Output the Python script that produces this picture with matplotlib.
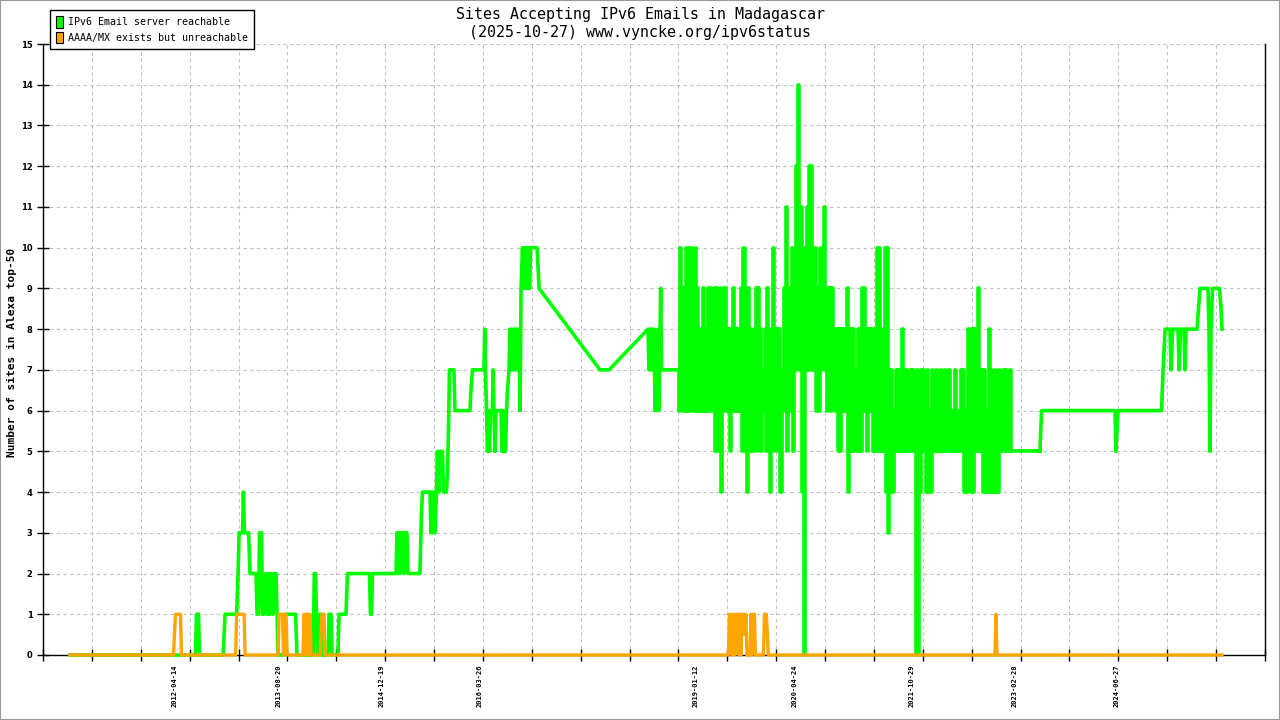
import datetime as dt

import matplotlib
matplotlib.use("Agg")

import matplotlib.pyplot as plt
import matplotlib.dates as mdates
import numpy as np
import pandas as pd
from matplotlib.patches import Patch, Rectangle

# IPv6 reachable sites (decimal year, count)
green_year = [
    2010.925, 2012.550, 2012.563, 2012.589, 2012.602, 2012.907, 2012.933, 2013.082,
    2013.101, 2013.114, 2013.159, 2013.170, 2013.183, 2013.237, 2013.256, 2013.334,
    2013.347, 2013.367, 2013.379, 2013.405, 2013.418, 2013.438, 2013.464, 2013.483,
    2013.496, 2013.515, 2013.528, 2013.554, 2013.567, 2013.593, 2013.606, 2013.619,
    2013.697, 2013.710, 2013.846, 2013.865, 2014.076, 2014.089, 2014.105, 2014.118,
    2014.130, 2014.150, 2014.163, 2014.176, 2014.189, 2014.267, 2014.280, 2014.306,
    2014.319, 2014.396, 2014.409, 2014.500, 2014.519, 2014.804, 2014.817, 2014.830,
    2014.843, 2015.148, 2015.161, 2015.173, 2015.186, 2015.199, 2015.212, 2015.238,
    2015.251, 2015.264, 2015.290, 2015.303, 2015.458, 2015.478, 2015.491, 2015.588,
    2015.601, 2015.614, 2015.627, 2015.640, 2015.653, 2015.672, 2015.685, 2015.705,
    2015.717, 2015.750, 2015.763, 2015.802, 2015.815, 2015.828, 2015.841, 2015.899,
    2015.912, 2016.106, 2016.119, 2016.138, 2016.287, 2016.297, 2016.307, 2016.320,
    2016.333, 2016.346, 2016.359, 2016.372, 2016.398, 2016.404, 2016.417, 2016.430,
    2016.443, 2016.508, 2016.521, 2016.534, 2016.547, 2016.566, 2016.579, 2016.592,
    2016.611, 2016.624, 2016.637, 2016.650, 2016.663, 2016.676, 2016.689, 2016.702,
    2016.715, 2016.728, 2016.747, 2016.754, 2016.767, 2016.786, 2016.799, 2016.812,
    2016.825, 2016.838, 2016.851, 2016.864, 2016.877, 2016.890, 2016.974, 2016.987,
    2017.000, 2017.790, 2017.907, 2018.412, 2018.425, 2018.438, 2018.451, 2018.464,
    2018.477, 2018.490, 2018.503, 2018.516, 2018.529, 2018.542, 2018.555, 2018.576,
    2018.587, 2018.813,
]
green_val = [
    0, 0, 1, 1, 0, 0, 1, 1,
    2, 3, 3, 4, 3, 3, 2, 2,
    1, 1, 3, 3, 1, 1, 2, 1,
    2, 1, 2, 1, 2, 2, 1, 0,
    0, 1, 1, 0, 0, 2, 2, 1,
    0, 0, 1, 1, 0, 0, 1, 1,
    0, 0, 1, 1, 2, 2, 1, 1,
    2, 2, 3, 2, 3, 2, 3, 3,
    2, 3, 3, 2, 2, 3.5, 4, 4,
    3, 4, 3, 4, 3, 4, 5, 4,
    5, 5, 4, 4, 4.5, 5.5, 7, 7,
    6, 6, 6.5, 7, 7, 8, 7, 6,
    5, 6, 5, 6, 6, 7, 6, 5,
    6, 6, 5, 6, 5, 5, 6, 6.5,
    7, 8, 7, 8, 7, 8, 7, 8,
    7, 8, 7, 6, 9, 10, 9, 10,
    9, 10, 9, 10, 9, 10, 10, 9.5,
    9, 7, 7, 8, 7, 8, 7, 8,
    7, 8, 6, 7, 6, 8, 6, 9,
    7, 7,
]

# busy stretch late 2018 .. early 2023: lowest and highest daily count
# inside each 10-day window
dense_start = "2018-10-25"
dense_step_days = 10
dense_low = [
    6, 7, 6, 6, 6, 6, 7, 6, 6, 6, 6, 6, 6, 6, 6, 7, 6, 5, 5, 6,
    4, 6, 6, 6, 5, 6, 6, 6, 6, 6, 5, 5, 4, 5, 5, 5, 6, 5, 6, 5,
    6, 5, 5, 4, 6, 5, 6, 5, 4, 6, 7, 5, 7, 6, 5, 7, 8, 7, 4, 0,
    7, 7, 8, 7, 7, 6, 6, 7, 8, 7, 6, 7, 6, 7, 6, 5, 5, 6, 6, 6,
    4, 5, 5, 5, 5, 5, 5, 6, 6, 5, 6, 6, 5, 5, 5, 5, 5, 5, 4, 3,
    4, 4, 5, 5, 5, 5, 5, 5, 5, 5, 5, 5, 0, 0, 4, 5, 5, 4, 4, 4,
    5, 5, 5, 5, 5, 5, 5, 5, 5, 5, 5, 5, 5, 5, 5, 4, 4, 5, 4, 4,
    5, 5, 5, 5, 4, 4, 4, 4, 4, 4, 4, 4, 5, 5, 5, 5, 5, 5,
]
dense_high = [
    10, 9, 9, 10, 10, 10, 9, 10, 9, 8, 8, 9, 8, 9, 9, 8, 9, 9, 8, 9,
    8, 9, 8, 8, 8, 9, 8, 8, 8, 9, 10, 8, 9, 8, 7, 8, 9, 9, 8, 7,
    8, 9, 8, 7, 10, 8, 8, 8, 7, 9, 11, 8, 9, 10, 9, 12, 14, 11, 10, 9,
    11, 12, 12, 9, 10, 9, 10, 9, 11, 9, 9, 9, 9, 8, 8, 8, 8, 8, 8, 9,
    8, 8, 8, 7, 8, 8, 9, 9, 8, 8, 8, 8, 8, 10, 10, 8, 7, 10, 10, 7,
    7, 6, 7, 7, 6, 8, 7, 7, 6, 7, 7, 6, 7, 6, 7, 7, 6, 7, 6, 7,
    6, 7, 6, 7, 6, 7, 6, 7, 6, 6, 7, 6, 6, 7, 7, 6, 8, 7, 8, 8,
    8, 9, 7, 7, 7, 6, 8, 7, 6, 7, 6, 7, 6, 7, 7, 6, 7, 5,
]

tail_year = [
    2023.489, 2023.511, 2024.461, 2024.474, 2024.500, 2025.063, 2025.083, 2025.096,
    2025.109, 2025.173, 2025.186, 2025.206, 2025.277, 2025.290, 2025.309, 2025.355,
    2025.367, 2025.380, 2025.523, 2025.542, 2025.562, 2025.665, 2025.678, 2025.691,
    2025.704, 2025.724, 2025.814, 2025.834, 2025.847,
]
tail_val = [
    5, 6, 6, 5, 6, 6, 7, 7.5,
    8, 8, 7, 8, 8, 7, 8, 8,
    7, 8, 8, 8.5, 9, 9, 8, 5,
    8, 9, 9, 8.5, 8,
]

# AAAA/MX present but not reachable
orange_year = [
    2010.925, 2012.266, 2012.278, 2012.291, 2012.356, 2012.369, 2013.069, 2013.082,
    2013.179, 2013.192, 2013.619, 2013.632, 2013.677, 2013.690, 2013.697, 2013.723,
    2013.736, 2013.943, 2013.956, 2013.975, 2013.988, 2014.008, 2014.021, 2014.034,
    2014.047, 2014.163, 2014.176, 2014.189, 2014.215, 2014.228, 2019.455, 2019.467,
    2019.487, 2019.500, 2019.513, 2019.526, 2019.539, 2019.552, 2019.578, 2019.591,
    2019.604, 2019.617, 2019.636, 2019.655, 2019.668, 2019.681, 2019.694, 2019.733,
    2019.746, 2019.759, 2019.772, 2019.791, 2019.804, 2019.908, 2019.921, 2019.946,
    2019.959, 2019.972, 2022.906, 2022.919, 2022.932, 2025.847,
]
orange_val = [
    0, 0, 0.5, 1, 1, 0, 0, 1,
    1, 0, 0, 1, 1, 0, 1, 1,
    0, 0, 1, 0, 1, 1, 0, 1,
    0, 0, 0.5, 1, 1, 0, 0, 1,
    1, 0, 1, 0.5, 0, 1, 1, 0,
    1, 0, 1, 1, 0.5, 1, 0, 0,
    1, 0, 1, 1, 0, 0, 1, 1,
    0.5, 0, 0, 1, 0, 0,
]

date_labels = ["2012-04-14", "2013-08-20", "2014-12-19", "2016-03-26",
               "2019-01-12", "2020-04-24", "2021-10-29", "2023-02-28", "2024-06-27"]

GREEN = "#00ff00"
ORANGE = "#ffa500"
MONO = "DejaVu Sans Mono"


def to_date(y):
    year = int(np.floor(y))
    start = dt.datetime(year, 1, 1)
    length = (dt.datetime(year + 1, 1, 1) - start).days
    return start + dt.timedelta(days=(y - year) * length)


knot_x = [to_date(y) for y in green_year]
tail_x = [to_date(y) for y in tail_year]

# each window: low for the first half, high for the second half
window_start = pd.date_range(dense_start, periods=len(dense_low),
                             freq=f"{dense_step_days}D")
half = pd.Timedelta(days=dense_step_days / 2)
busy_x, busy_y = [knot_x[-1]], [green_val[-1]]
for t, lo, hi in zip(window_start, dense_low, dense_high):
    busy_x += [t, t + half]
    busy_y += [lo, hi]
busy_x.append(tail_x[0])
busy_y.append(tail_val[0])

orange_x = [to_date(y) for y in orange_year]

fig = plt.figure(figsize=(12.8, 7.2), dpi=100)
ax = fig.add_axes([43 / 1280, 65 / 720, 1222 / 1280, 611 / 720])

style = dict(color=GREEN, lw=2.6, clip_on=False, zorder=3)
ax.plot(knot_x, green_val, **style)
ax.plot(busy_x, busy_y, drawstyle="steps-post", **style)
ax.plot(tail_x, tail_val, **style)
ax.plot(orange_x, orange_val, color=ORANGE, lw=2.4, clip_on=False, zorder=4)

x0 = mdates.date2num(to_date(2010.575))
x1 = mdates.date2num(to_date(2026.404))
ax.set_xlim(x0, x1)
ax.set_ylim(0, 15)

ax.set_xticks(np.linspace(x0, x1, 26))
ax.set_xticklabels([])
ax.set_xticks(mdates.date2num(pd.to_datetime(date_labels)), minor=True)
ax.set_xticklabels(date_labels, minor=True, rotation=90, fontsize=5,
                   family=MONO, fontweight="bold")
ax.tick_params(axis="x", which="major", direction="inout", length=8, width=1)
ax.tick_params(axis="x", which="minor", length=0, pad=7)

ax.set_yticks(range(0, 16))
ax.set_yticklabels([str(v) for v in range(0, 16)], fontsize=6, fontweight="bold")
ax.tick_params(axis="y", direction="inout", length=9, width=1, pad=3)

ax.grid(True, which="major", color="#c0c0c0", lw=0.8, ls=(0, (3, 3)))
ax.set_axisbelow(True)
ax.spines["top"].set_visible(False)
for side in ("left", "bottom", "right"):
    ax.spines[side].set_linewidth(1)

fig.text(0.5, 1 - 14 / 720, "Sites Accepting IPv6 Emails in Madagascar",
         ha="center", va="center", family=MONO, fontsize=10.8)
fig.text(0.5, 1 - 32 / 720, "(2025-10-27) www.vyncke.org/ipv6status",
         ha="center", va="center", family=MONO, fontsize=10.8)
fig.text(12 / 1280, 1 - 352 / 720, "Number of sites in Alexa top-50", rotation=90,
         ha="center", va="center", family=MONO, fontsize=8, fontweight="bold")

handles = [Patch(facecolor=GREEN, edgecolor="black", lw=0.8),
           Patch(facecolor=ORANGE, edgecolor="black", lw=0.8)]
leg = fig.legend(handles, ["IPv6 Email server reachable", "AAAA/MX exists but unreachable"],
                 loc="upper left", bbox_to_anchor=(50 / 1280, 1 - 10 / 720),
                 borderaxespad=0, fancybox=False, framealpha=1, edgecolor="black",
                 prop={"family": MONO, "size": 7.2}, handlelength=0.7,
                 handleheight=1.4, handletextpad=0.5, labelspacing=0.4, borderpad=0.6)
leg.get_frame().set_linewidth(1)

fig.patches.append(Rectangle((0, 0), 1, 1, transform=fig.transFigure, fill=False,
                             edgecolor="#999999", lw=1.5))

fig.savefig("out.png", dpi=100)
